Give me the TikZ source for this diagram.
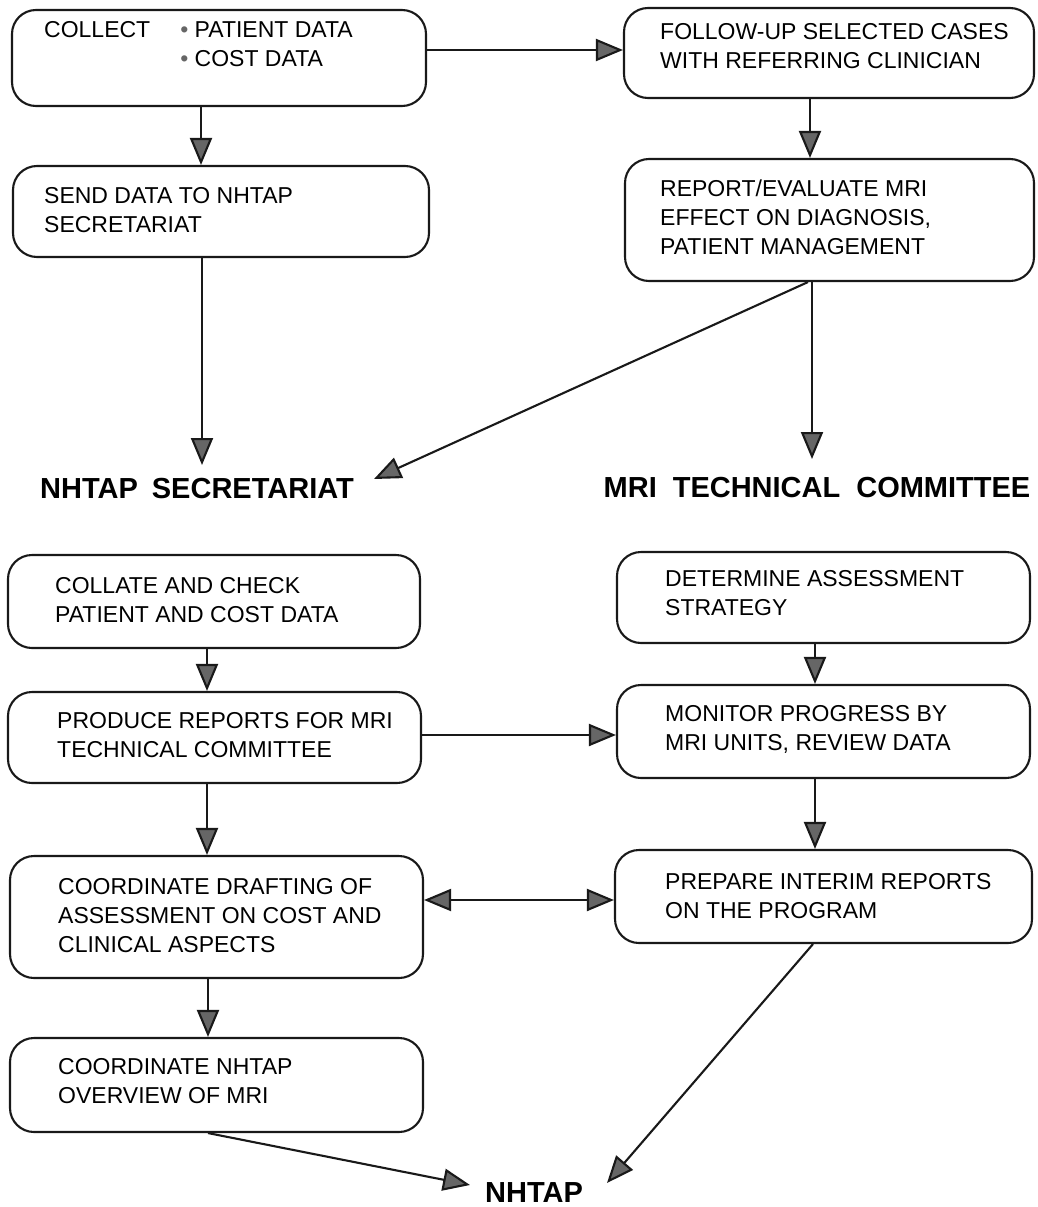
\documentclass[tikz,border=0pt]{standalone}
\usepackage{fontspec}
\setmainfont{Liberation Sans}
\usetikzlibrary{arrows.meta,calc}
\begin{document}
\begin{tikzpicture}[x=1pt,y=-1pt,
  box/.style={draw=black!90, line width=2.1pt, rounded corners=24pt, inner sep=0pt},
  txt/.style={anchor=west, align=left, inner sep=0pt, font=\fontsize{23}{29}\selectfont},
  lbl/.style={inner sep=0pt, font=\fontsize{29}{34}\selectfont\bfseries},
  arr/.style={line width=2.1pt, draw=black!90, -{Triangle[length=27pt,width=22pt,fill=black!60]}},
  darr/.style={line width=2.1pt, draw=black!90, {Triangle[length=27pt,width=22pt,fill=black!60]}-{Triangle[length=27pt,width=22pt,fill=black!60]}}
]
\useasboundingbox (0,0) rectangle (1037,1207);
% boxes
\node[box, minimum width=414pt, minimum height=96pt] (collect) at (219,58) {};
\node[box, minimum width=410pt, minimum height=90pt] (follow) at (829,53) {};
\node[box, minimum width=416pt, minimum height=91pt] (send) at (221,211.5) {};
\node[box, minimum width=409pt, minimum height=122pt] (report) at (829.5,220) {};
\node[box, minimum width=412pt, minimum height=93pt] (collate) at (214,601.5) {};
\node[box, minimum width=413pt, minimum height=91pt] (produce) at (214.5,737.5) {};
\node[box, minimum width=413pt, minimum height=91pt] (determine) at (823.5,597.5) {};
\node[box, minimum width=413pt, minimum height=93pt] (monitor) at (823.5,731.5) {};
\node[box, minimum width=413pt, minimum height=122pt] (drafting) at (216.5,917) {};
\node[box, minimum width=417pt, minimum height=93pt] (prepare) at (823.5,896.5) {};
\node[box, minimum width=413pt, minimum height=94pt] (overview) at (216.5,1085) {};
% texts
\node[txt] (collect-t) at (44,44) {COLLECT\hspace{30pt}\textcolor{black!60}{•} PATIENT DATA\\\hphantom{COLLECT\hspace{30pt}}\textcolor{black!60}{•} COST DATA};
\node[txt] (follow-t) at (660,46.5) {FOLLOW-UP SELECTED CASES\\WITH REFERRING CLINICIAN};
\node[txt] (send-t) at (44,210.5) {SEND DATA TO NHTAP\\SECRETARIAT};
\node[txt] (report-t) at (660,217.5) {REPORT/EVALUATE MRI\\EFFECT ON DIAGNOSIS,\\PATIENT MANAGEMENT};
\node[txt] (collate-t) at (55,600) {COLLATE AND CHECK\\PATIENT AND COST DATA};
\node[txt] (produce-t) at (57,735.5) {PRODUCE REPORTS FOR MRI\\TECHNICAL COMMITTEE};
\node[txt] (determine-t) at (665,593) {DETERMINE ASSESSMENT\\STRATEGY};
\node[txt] (monitor-t) at (665,729) {MONITOR PROGRESS BY\\MRI UNITS, REVIEW DATA};
\node[txt] (drafting-t) at (58,916) {COORDINATE DRAFTING OF\\ASSESSMENT ON COST AND\\CLINICAL ASPECTS};
\node[txt] (prepare-t) at (665,896) {PREPARE INTERIM REPORTS\\ON THE PROGRAM};
\node[txt] (overview-t) at (58,1081) {COORDINATE NHTAP\\OVERVIEW OF MRI};
% labels
\node[lbl] (secr) at (197,489) {NHTAP\hspace{14pt}SECRETARIAT};
\node[lbl] (mritc) at (817,488) {MRI\hspace{16pt}TECHNICAL\hspace{16pt}COMMITTEE};
\node[lbl] (nhtap) at (534,1193) {NHTAP};
% helper coordinates
\coordinate (xl1) at (201,0);
\coordinate (xl2) at (202,0);
\coordinate (xl3) at (207,0);
\coordinate (xl4) at (208,0);
\coordinate (xr0) at (808,0);
\coordinate (xr1) at (810,0);
\coordinate (xr2) at (812,0);
\coordinate (xr3) at (815,0);
\coordinate (xr4) at (813,0);
\coordinate (yh1) at (0,50);
\coordinate (yh2) at (0,735);
\coordinate (yh3) at (0,900);
\coordinate (t-secr) at (202,465);
\coordinate (t-secr2) at (374,479);
\coordinate (t-mri) at (812,459);
\coordinate (t-nh1) at (470,1185);
\coordinate (t-nh2) at (607,1183);
% connectors
\draw[arr] (collect.east |- yh1) -- (follow.west |- yh1);
\draw[arr] (collect.south -| xl1) -- (send.north -| xl1);
\draw[arr] (follow.south -| xr1) -- (report.north -| xr1);
\draw[arr] (send.south -| xl2) -- (t-secr);
\draw[arr] (report.south -| xr0) -- (t-secr2);
\draw[arr] (report.south -| xr2) -- (t-mri);
\draw[arr] (collate.south -| xl3) -- (produce.north -| xl3);
\draw[arr] (produce.east |- yh2) -- (monitor.west |- yh2);
\draw[arr] (determine.south -| xr3) -- (monitor.north -| xr3);
\draw[arr] (produce.south -| xl3) -- (drafting.north -| xl3);
\draw[arr] (monitor.south -| xr3) -- (prepare.north -| xr3);
\draw[darr] (drafting.east |- yh3) -- (prepare.west |- yh3);
\draw[arr] (drafting.south -| xl4) -- (overview.north -| xl4);
\draw[arr] (overview.south -| xl4) -- (t-nh1);
\draw[arr] (prepare.south -| xr4) -- (t-nh2);
\end{tikzpicture}
\end{document}
